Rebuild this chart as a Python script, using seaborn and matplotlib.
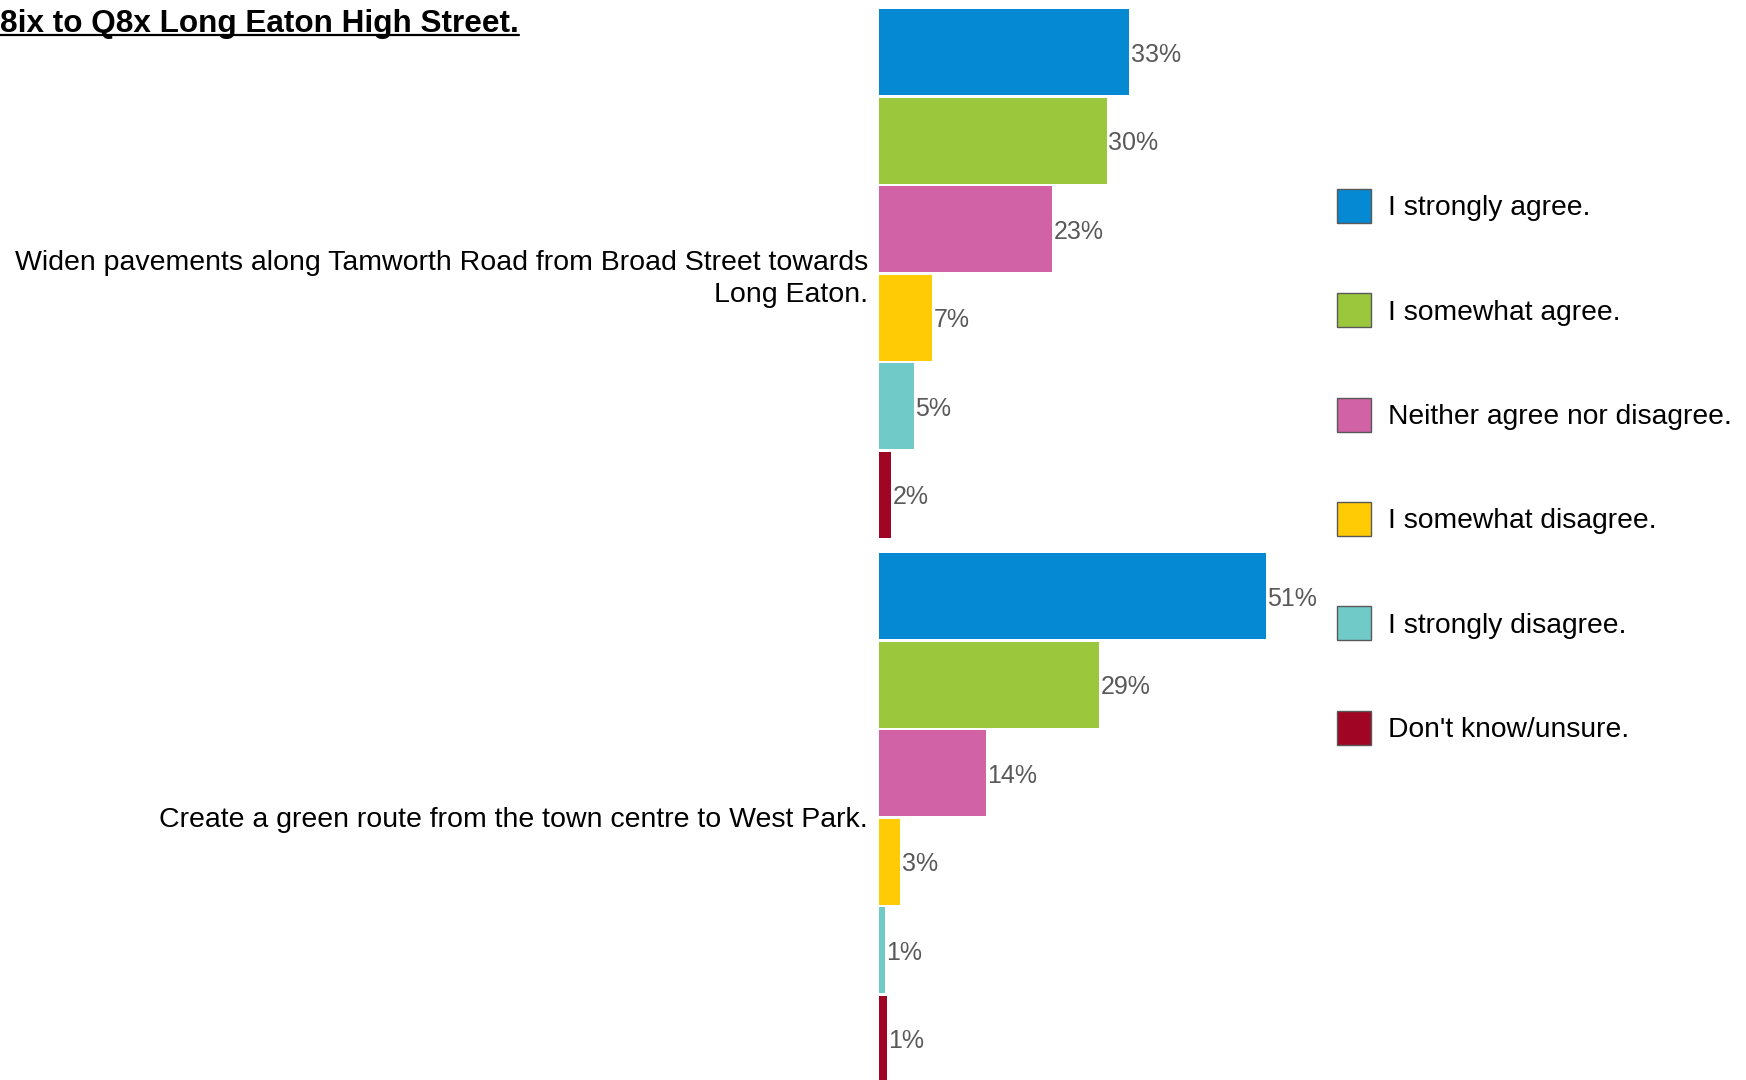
import matplotlib.pyplot as plt
import pandas as pd
import seaborn as sns
from matplotlib.lines import Line2D
from matplotlib.patches import Patch


TITLE = "8ix to Q8x Long Eaton High Street."

QUESTIONS = [
    "Widen pavements along Tamworth Road from Broad Street towards\nLong Eaton.",
    "Create a green route from the town centre to West Park.",
]

RESPONSES = [
    "I strongly agree.",
    "I somewhat agree.",
    "Neither agree nor disagree.",
    "I somewhat disagree.",
    "I strongly disagree.",
    "Don't know/unsure.",
]

# percent of respondents, one list per question, in RESPONSES order
WIDEN_PAVEMENTS = [33.0, 30.0, 22.8, 7.0, 4.6, 1.6]
GREEN_ROUTE = [51.0, 29.0, 14.1, 2.8, 0.8, 1.05]

COLORS = ["#0689D3", "#9BC73C", "#D062A5", "#FFCB05", "#70CBC8", "#A00523"]


def build_frame():
    rows = []
    for question, values in zip(QUESTIONS, [WIDEN_PAVEMENTS, GREEN_ROUTE]):
        for response, value in zip(RESPONSES, values):
            rows.append({"question": question, "response": response, "pct": value})
    return pd.DataFrame(rows)


def run():
    sns.set_theme(style="white")
    plt.rcParams["font.family"] = ["Liberation Sans", "DejaVu Sans"]
    plt.rcParams["text.color"] = "black"

    df = build_frame()
    fig = plt.figure(figsize=(17.46, 10.8), dpi=100)
    ax = fig.add_axes([879 / 1746, 0.0, 455 / 1746, 1.0])

    sns.barplot(
        data=df,
        x="pct",
        y="question",
        hue="response",
        hue_order=RESPONSES,
        order=QUESTIONS,
        palette=COLORS,
        saturation=1,
        orient="h",
        width=0.977,
        gap=0.03,
        linewidth=0,
        errorbar=None,
        legend=False,
        ax=ax,
    )

    for container in ax.containers:
        texts = ax.bar_label(container, fmt="{:.0f}%", padding=1, fontsize=18,
                             color="#595959")
        for t in texts:
            t.set_va("center_baseline")

    ax.set_xlim(0, 60)
    ax.set_ylim(1.4826, -0.5027)
    ax.set_xlabel("")
    ax.set_ylabel("")
    ax.set_xticks([])
    ax.tick_params(axis="y", length=0, pad=8, labelsize=20.5, labelcolor="black")
    for label in ax.get_yticklabels():
        label.set_linespacing(1.3)
    sns.despine(ax=ax, left=True, bottom=True)

    handles = [Patch(facecolor=c, edgecolor="#595959", linewidth=1) for c in COLORS]
    fig.legend(
        handles,
        RESPONSES,
        loc="upper left",
        bbox_to_anchor=(1337 / 1746, 1 - 189 / 1080),
        frameon=False,
        fontsize=20.3,
        handlelength=1.2,
        handleheight=1.47,
        handletextpad=0.6,
        labelspacing=2.5,
        borderpad=0,
        borderaxespad=0,
    )

    title = fig.text(0.0, 1 - 32 / 1080, TITLE, fontsize=22.7, fontweight="bold",
                     color="black", ha="left", va="baseline")
    renderer = fig.canvas.get_renderer()
    bbox = title.get_window_extent(renderer=renderer)
    y_line = 1 - 35 / 1080
    fig.add_artist(Line2D([0, bbox.x1 / 1746], [y_line, y_line], color="black",
                          linewidth=1.6, transform=fig.transFigure))

    fig.savefig("out.png", dpi=100)
    plt.close(fig)


if __name__ == "__main__":
    run()
